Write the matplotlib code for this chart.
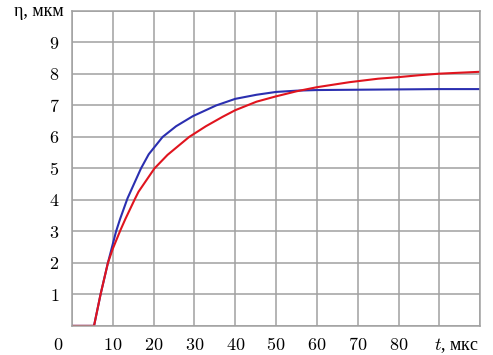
import numpy as np
import matplotlib.pyplot as plt

# curves
t_blue = [0, 5.4, 7, 8.8, 10.8, 11.8, 13.6, 16.9, 18.8, 22.2, 25.5, 29.6, 35.3,
          40, 45.2, 50, 55, 60, 70, 80, 90, 100]
eta_blue = [0, 0, 1, 2, 3, 3.4, 4.05, 5, 5.45, 6, 6.34, 6.66, 7,
            7.21, 7.34, 7.43, 7.47, 7.49, 7.5, 7.51, 7.52, 7.52]

t_red = [0, 5.4, 7, 8.8, 10, 11.9, 13.1, 15.3, 16.3, 20.2, 23.4, 28.7, 32.8, 36.9,
         40, 45.2, 50, 55, 60, 68, 75, 80, 85, 90, 95, 100]
eta_red = [0, 0, 1, 2, 2.45, 3.05, 3.4, 4, 4.26, 5, 5.43, 6, 6.34, 6.64,
           6.85, 7.12, 7.29, 7.45, 7.58, 7.74, 7.85, 7.9, 7.96, 8.01, 8.04, 8.07]

xticks = np.arange(0, 101, 10)
xlabels = ['', '10', '20', '30', '40', '50', '60', '70', '80', '', '']
yticks = np.arange(0, 11, 1)
ylabels = ['', '1', '2', '3', '4', '5', '6', '7', '8', '9', '']

plt.rcParams['font.family'] = 'Liberation Serif'
plt.rcParams['mathtext.fontset'] = 'cm'

fig = plt.figure(figsize=(4.93, 3.55), dpi=100)
ax = fig.add_axes([0.146, 0.082, 0.828, 0.887])

ax.plot(t_blue, eta_blue, color='#2b2fb0', lw=1.5)
ax.plot(t_red, eta_red, color='#e0141e', lw=1.5)

ax.set_xlim(0, 100)
ax.set_ylim(0, 10)
ax.set_xticks(xticks)
ax.set_xticklabels(['$%s$' % s if s else '' for s in xlabels], fontsize=13)
ax.set_yticks(yticks)
ax.set_yticklabels(['$%s$' % s if s else '' for s in ylabels], fontsize=13)
ax.tick_params(axis='x', length=0, pad=8)
ax.tick_params(axis='y', length=0, pad=9)
ax.grid(True, color='#a0a0a0', lw=1.1)
for s in ax.spines.values():
    s.set_color('#a0a0a0')
    s.set_linewidth(1.1)

ax.text(-0.035, -0.063, '$0$', transform=ax.transAxes, fontsize=13, ha='center', va='center')
ax.text(88.8, -0.063, r'$t$, мкс', transform=ax.get_xaxis_transform(), fontsize=13,
        ha='left', va='center')
ax.text(-0.02, 1.0, 'η, мкм', transform=ax.transAxes, fontsize=13, ha='right', va='center')

fig.savefig('out.png', dpi=100)
